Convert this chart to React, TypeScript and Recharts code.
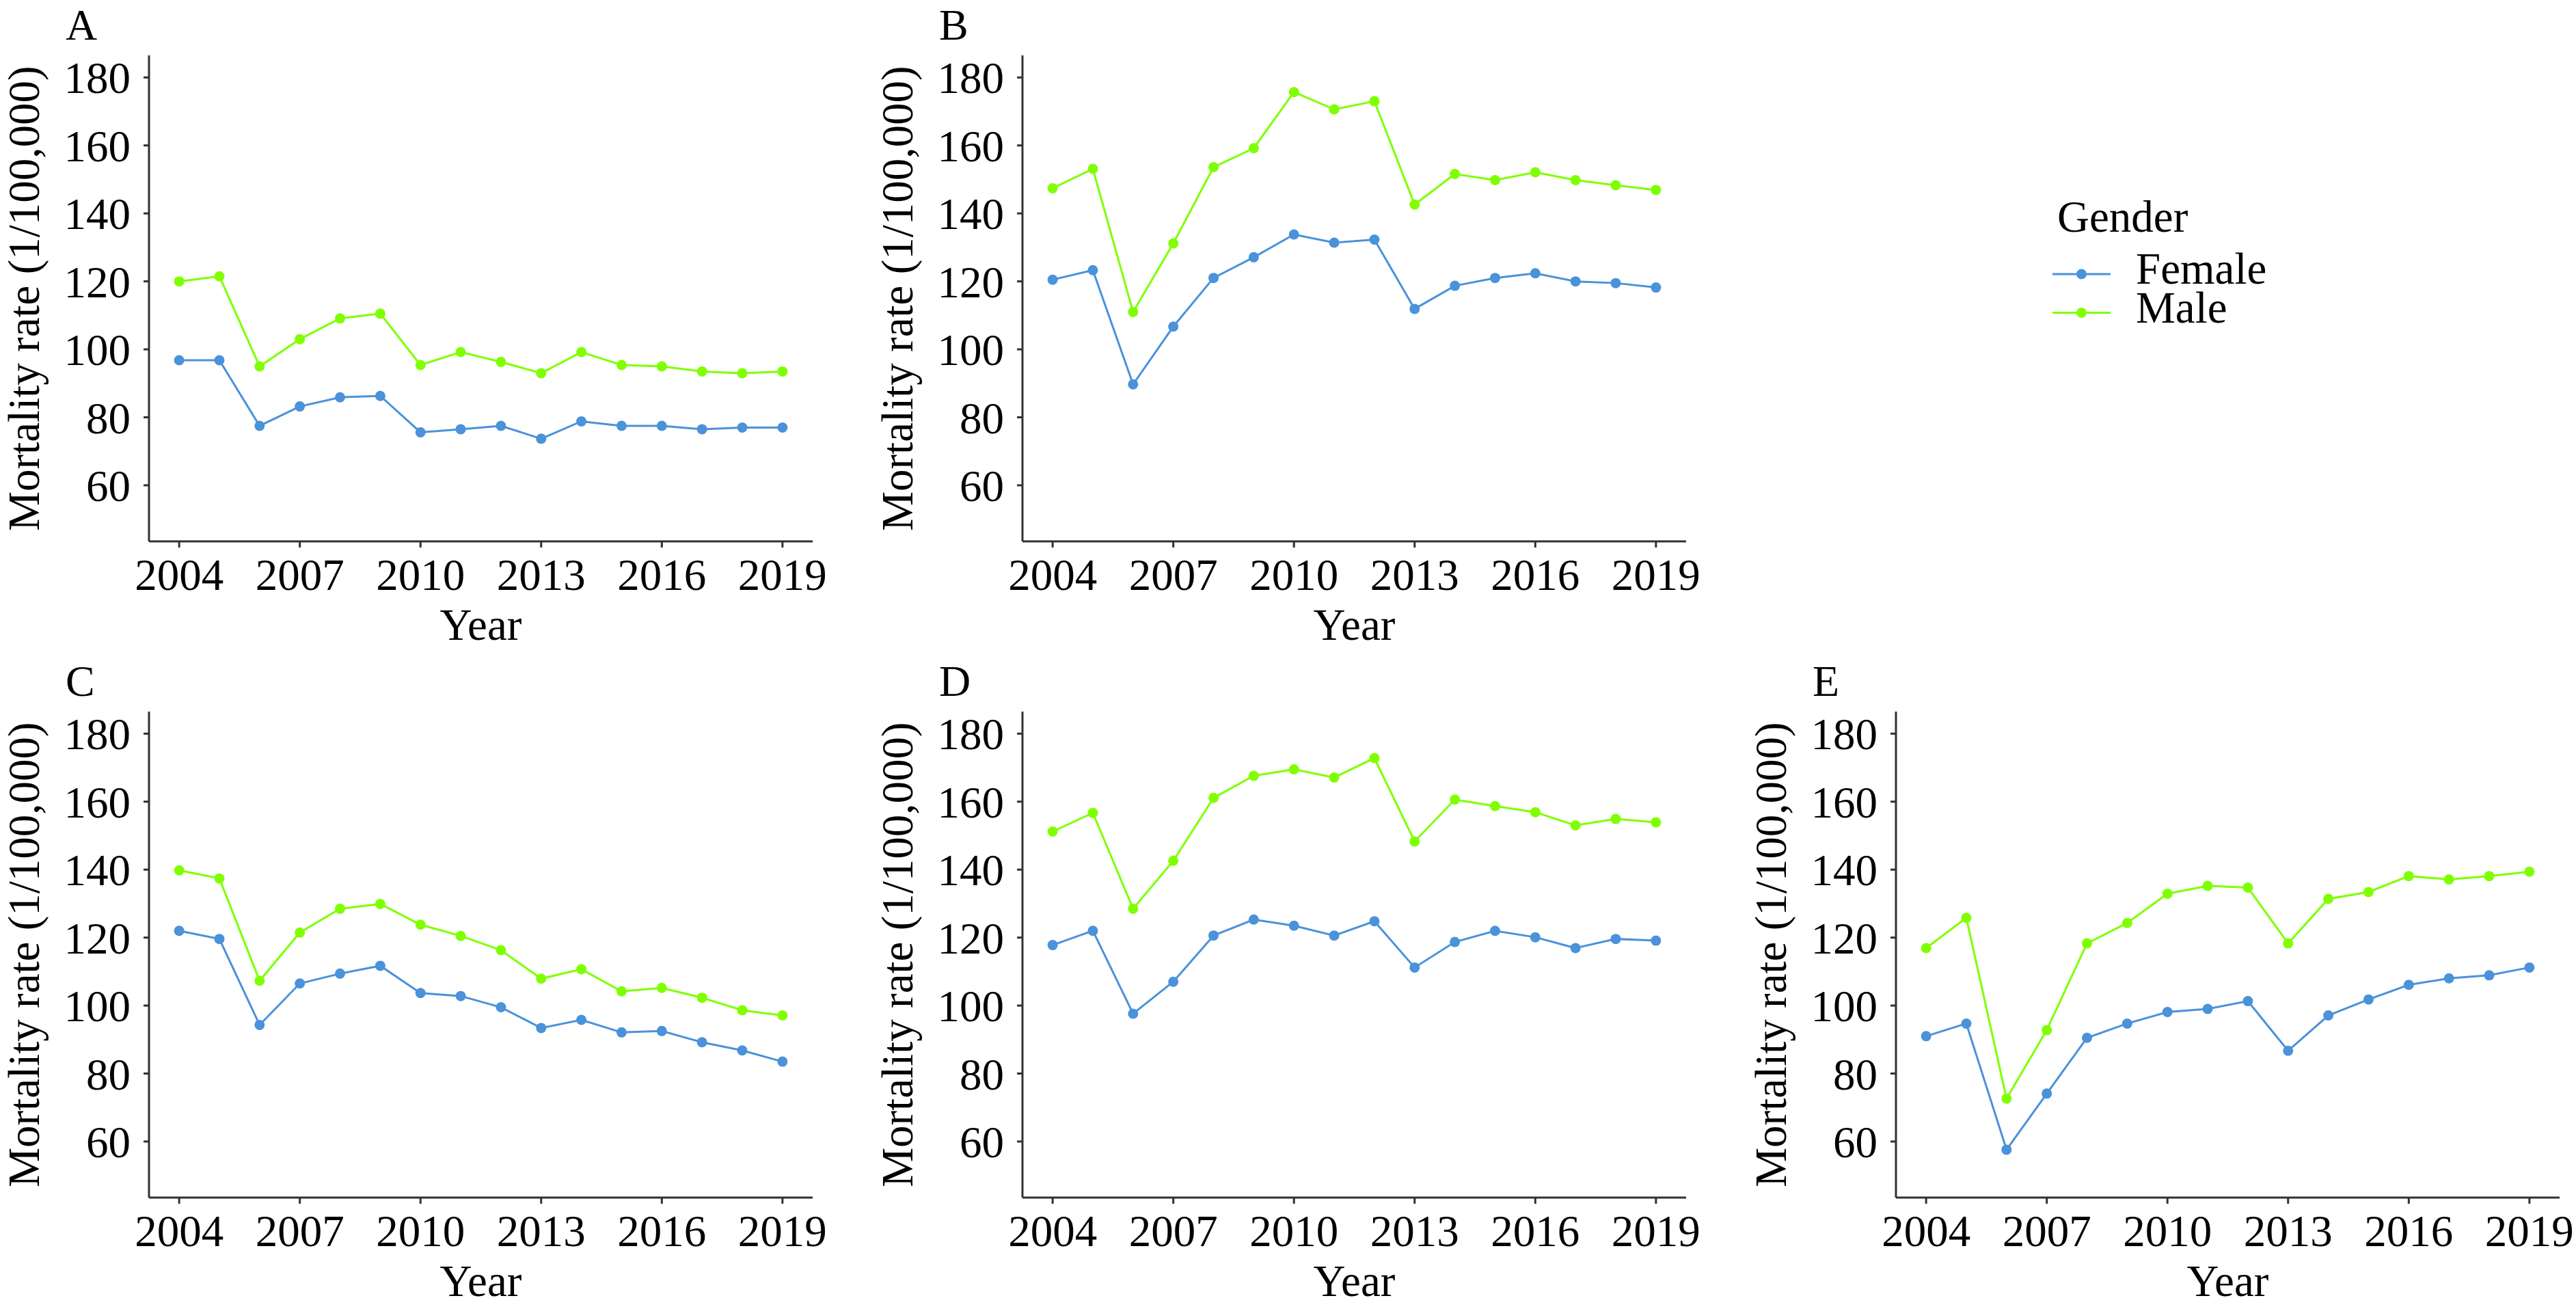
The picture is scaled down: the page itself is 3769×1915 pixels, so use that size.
import { LineChart, Line, XAxis, YAxis, Label } from "recharts";

const years = [2004, 2005, 2006, 2007, 2008, 2009, 2010, 2011, 2012, 2013, 2014, 2015, 2016, 2017, 2018, 2019];
const xTicks = [2004, 2007, 2010, 2013, 2016, 2019];
const yTicks = [60, 80, 100, 120, 140, 160, 180];

const femaleA = [96.8, 96.8, 77.5, 83.2, 85.9, 86.3, 75.6, 76.5, 77.5, 73.7, 78.8, 77.5, 77.5, 76.5, 77, 77];
const maleA = [120, 121.5, 95, 103, 109.1, 110.5, 95.4, 99.2, 96.3, 93, 99.2, 95.4, 95, 93.5, 93, 93.5];

const femaleB = [120.5, 123.3, 89.7, 106.7, 121, 127.1, 133.8, 131.4, 132.3, 111.9, 118.7, 121, 122.4, 120, 119.5, 118.2];
const maleB = [147.4, 153.1, 111, 131.2, 153.6, 159.2, 175.7, 170.6, 173, 142.6, 151.6, 149.8, 152.1, 149.8, 148.3, 146.9];

const femaleC = [122, 119.6, 94.3, 106.5, 109.4, 111.7, 103.7, 102.8, 99.5, 93.4, 95.8, 92.1, 92.5, 89.2, 86.8, 83.5];
const maleC = [139.8, 137.4, 107.3, 121.5, 128.5, 129.9, 123.8, 120.5, 116.3, 107.9, 110.7, 104.2, 105.2, 102.3, 98.6, 97.1];

const femaleD = [117.8, 122, 97.6, 107, 120.6, 125.3, 123.5, 120.6, 124.8, 111.2, 118.7, 122, 120.1, 116.9, 119.6, 119.1];
const maleD = [151.2, 156.7, 128.5, 142.6, 161.1, 167.6, 169.5, 167.1, 172.8, 148.3, 160.6, 158.7, 156.9, 153, 154.9, 153.9];

const femaleE = [91, 94.7, 57.6, 74.1, 90.5, 94.7, 98.1, 99, 101.3, 86.7, 97.1, 101.8, 106.1, 108, 108.9, 111.2];
const maleE = [116.9, 125.8, 72.6, 92.8, 118.3, 124.3, 132.9, 135.2, 134.7, 118.3, 131.4, 133.4, 138.1, 137.1, 138.1, 139.4];

const series = [
  { key: "female", name: "Female", color: "#4A92DA" },
  { key: "male", name: "Male", color: "#7FFF00" },
];

const panels = [
  { letter: "A", female: femaleA, male: maleA, col: 0, row: 0 },
  { letter: "B", female: femaleB, male: maleB, col: 1, row: 0 },
  { letter: "C", female: femaleC, male: maleC, col: 0, row: 1 },
  { letter: "D", female: femaleD, male: maleD, col: 1, row: 1 },
  { letter: "E", female: femaleE, male: maleE, col: 2, row: 1 },
];

const FONT = "'Liberation Serif', 'Times New Roman', Times, serif";
const AXIS = "#2e3235";
const W = 1278;
const H = 960;

function Panel({ p }: { p: (typeof panels)[number] }) {
  const data = years.map((year, i) => ({ year, female: p.female[i], male: p.male[i] }));
  return (
    <div style={{ position: "absolute", left: p.col * W, top: p.row * H }}>
      <LineChart width={W} height={H} data={data} margin={{ top: 81, right: 89, bottom: 60, left: 0 }}>
        <XAxis
          dataKey="year"
          type="number"
          domain={[2003.25, 2019.75]}
          allowDataOverflow
          ticks={xTicks}
          height={108}
          tickSize={9}
          tickMargin={16}
          stroke={AXIS}
          strokeWidth={3}
          tick={{ fontSize: 65, fill: "#000", fontFamily: FONT }}
        >
          <Label
            content={(lp: any) => {
              const vb = lp.viewBox;
              return (
                <text x={vb.x + vb.width / 2} y={vb.y + 144} textAnchor="middle" fontSize={65} fill="#000" style={{ fontFamily: FONT }}>
                  Year
                </text>
              );
            }}
          />
        </XAxis>
        <YAxis
          type="number"
          domain={[43.5, 186.5]}
          allowDataOverflow
          ticks={yTicks}
          width={218}
          tickSize={8}
          tickMargin={19}
          stroke={AXIS}
          strokeWidth={3}
          tick={{ fontSize: 65, fill: "#000", fontFamily: FONT }}
        >
          <Label
            content={(lp: any) => {
              const vb = lp.viewBox;
              const cx = vb.x + 57;
              const cy = vb.y + vb.height / 2;
              return (
                <text x={cx} y={cy} transform={`rotate(-90, ${cx}, ${cy})`} textAnchor="middle" fontSize={65} fill="#000" style={{ fontFamily: FONT }}>
                  Mortality rate (1/100,000)
                </text>
              );
            }}
          />
        </YAxis>
        {series.map((s) => (
          <Line
            key={s.key}
            dataKey={s.key}
            name={s.name}
            stroke={s.color}
            strokeWidth={3}
            dot={{ r: 7.5, fill: s.color, stroke: s.color, strokeWidth: 0 }}
            isAnimationActive={false}
          />
        ))}
      </LineChart>
    </div>
  );
}

export default function App() {
  return (
    <div style={{ position: "absolute", left: 0, top: 0, width: 3769, height: 1915, background: "#fff", overflow: "hidden", fontFamily: FONT }}>
      {panels.map((p) => (
        <Panel key={p.letter} p={p} />
      ))}
      <svg width={3769} height={1915} style={{ position: "absolute", left: 0, top: 0, pointerEvents: "none", fontFamily: FONT }}>
        {/* panel letters */}
        {panels.map((p) => (
          <text key={p.letter} x={p.col * W + 96} y={p.row * H + 58} fontSize={64} fill="#000">
            {p.letter}
          </text>
        ))}
        {/* legend */}
        <text x={3010} y={339} fontSize={65} fill="#000">
          Gender
        </text>
        {series.map((s, i) => (
          <g key={s.key}>
            <line x1={3003} x2={3088} y1={401 + i * 56.5} y2={401 + i * 56.5} stroke={s.color} strokeWidth={3} />
            <circle cx={3045.5} cy={401 + i * 56.5} r={7.5} fill={s.color} />
            <text x={3125} y={415 + i * 56.5} fontSize={65} fill="#000">
              {s.name}
            </text>
          </g>
        ))}
      </svg>
    </div>
  );
}
